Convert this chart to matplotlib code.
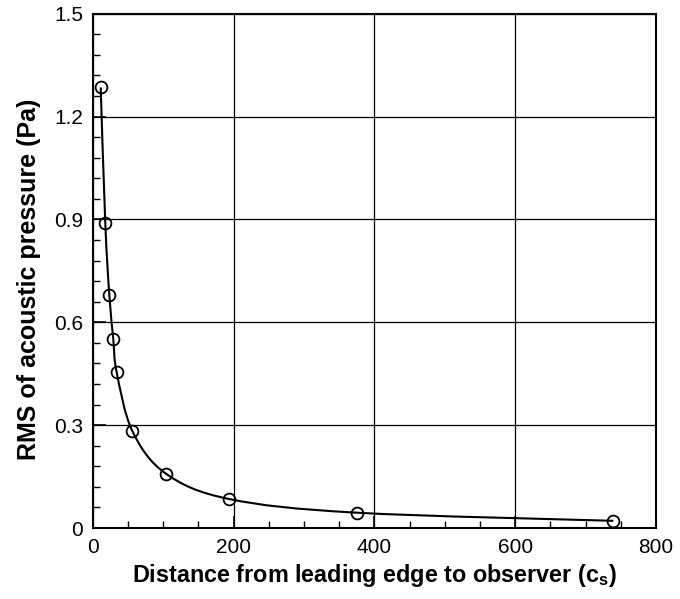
import matplotlib
matplotlib.use("Agg")
import matplotlib.pyplot as plt
from matplotlib.path import Path
from matplotlib.patches import PathPatch
from matplotlib.ticker import MultipleLocator
import numpy as np

distance = [11.4, 17.9, 23.6, 29.3, 34.0, 56.3, 103.7, 194.0, 376.0, 739.5]
rms = [1.285, 0.889, 0.681, 0.550, 0.455, 0.283, 0.159, 0.0845, 0.0446, 0.021]

plt.rcParams['font.family'] = ['Liberation Sans', 'DejaVu Sans']
plt.rcParams['mathtext.fontset'] = 'custom'
plt.rcParams['mathtext.rm'] = 'Liberation Sans'
plt.rcParams['mathtext.bf'] = 'Liberation Sans:bold'

fig = plt.figure(figsize=(6.8, 5.99), dpi=100)
ax = fig.add_axes([0.1363, 0.1185, 0.8284, 0.8586])

# smooth curve through the points (Catmull-Rom as cubic Bezier, drawn by matplotlib)
pts = np.column_stack([distance, rms])
verts = [pts[0]]
codes = [Path.MOVETO]
for i in range(len(pts) - 1):
    p0 = pts[i - 1] if i > 0 else pts[i]
    p1 = pts[i]
    p2 = pts[i + 1]
    p3 = pts[i + 2] if i + 2 < len(pts) else pts[i + 1]
    verts += [p1 + (p2 - p0) / 6, p2 - (p3 - p1) / 6, p2]
    codes += [Path.CURVE4] * 3
ax.add_patch(PathPatch(Path(verts, codes), fill=False, color='black', lw=1.5, zorder=3))

ax.plot(distance, rms, 'o', mfc='none', mec='black', ms=8.5, mew=1.3, zorder=4)

ax.set_xlim(0, 800)
ax.set_ylim(0, 1.5)
ax.xaxis.set_minor_locator(MultipleLocator(50))
ax.yaxis.set_minor_locator(MultipleLocator(0.06))
ax.set_yticks([0, 0.3, 0.6, 0.9, 1.2, 1.5])
ax.set_yticklabels(['0', '0.3', '0.6', '0.9', '1.2', '1.5'])
ax.set_xticks([0, 200, 400, 600, 800])
ax.set_xticklabels(['0', '200', '400', '600', '800'])
ax.tick_params(which='major', direction='in', length=9, width=1.2, labelsize=15, pad=7)
ax.tick_params(which='minor', direction='in', length=5, width=1)
ax.grid(True, which='major', color='black', lw=0.9)
for s in ax.spines.values():
    s.set_linewidth(1.5)

ax.set_xlabel(r"Distance from leading edge to observer (c$_\mathbf{s}$)", fontsize=16.8, fontweight='bold', labelpad=4)
ax.set_ylabel("RMS of acoustic pressure (Pa)", fontsize=18, fontweight='bold', labelpad=12)
ax.yaxis.set_label_coords(-0.092, 0.484)

fig.savefig("out.png", dpi=100)
